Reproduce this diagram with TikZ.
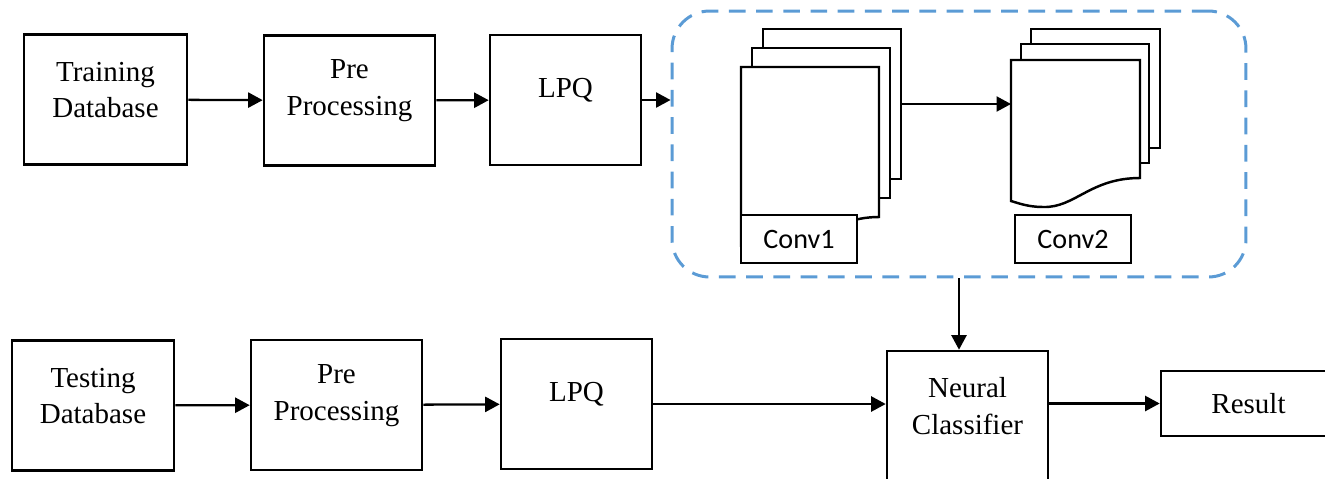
\documentclass[tikz,border=0pt]{standalone}
\usepackage{fontspec}
\setmainfont{Liberation Serif}
\newfontfamily\convfont{Carlito}
\usepackage{xcolor}
\usetikzlibrary{arrows.meta,positioning,calc}
\definecolor{cnnblue}{RGB}{91,155,213}

\begin{document}
\begin{tikzpicture}[x=0.02cm,y=-0.02cm,>={Triangle[length=2.9mm,width=3mm]},
  font=\fontsize{16.5}{21}\selectfont,
  blk/.style={draw,line width=1.5pt,minimum height=2.6cm},
  txt/.style={align=center,inner sep=0pt},
  page/.style={draw,line width=1.4pt,fill=white},
  tag/.style={draw,line width=0.6pt,fill=white,font=\convfont\fontsize{16}{19}\selectfont,minimum width=2.32cm,minimum height=0.96cm},
  arr/.style={->,line width=1.3pt}]
\useasboundingbox (0,0) rectangle (1325,478);
% processing blocks, text sits a bit above the middle
\foreach \n/\x/\y/\w/\t in {trn/105.5/99.5/3.26/{Training\\Database},
    pre1/349.5/100.5/3.42/{Pre\\Processing}, lpq1/565.5/100/3.02/{LPQ},
    tst/93/405.5/3.24/{Testing\\Database}, pre2/336.5/405/3.42/{Pre\\Processing},
    lpq2/576.5/404/3.02/{LPQ}, ncl/967.5/416/3.22/{Neural\\Classifier}}{
  \node[blk,minimum width=\w cm] (\n) at (\x,\y) {};
  \node[txt] (\n-txt) at ([yshift=0.19cm]\n.center) {\t};
}
\node[blk,minimum width=3.5cm,minimum height=1.3cm] (res) at (1248.5,403.5) {Result};
% CNN part
\node[draw=cnnblue,line width=1.7pt,dash pattern=on 9.5pt off 6pt,rounded corners=0.75cm,
  minimum width=11.48cm,minimum height=5.32cm] (cnn) at (959,144) {};
\node[page,minimum width=2.76cm,minimum height=3cm] (c1p3) at (832,104) {};
\node[page,minimum width=2.76cm,minimum height=3cm] (c1p2) at (821,123) {};
\draw[page] (741,67) -- (879,67) -- (879,217)
  .. controls (826,217) and (809,255) .. (775,254)
  .. controls (759,254) and (748,249) .. (741,246) -- cycle;
\node[page,minimum width=2.58cm,minimum height=2.38cm] (c2p3) at (1095.5,88.5) {};
\node[page,minimum width=2.56cm,minimum height=2.38cm] (c2p2) at (1085,103.5) {};
\draw[page] (1011,60) -- (1140,60) -- (1140,178)
  .. controls (1090,178) and (1075,208) .. (1043,207)
  .. controls (1028,207) and (1018,203) .. (1011,201) -- cycle;
\coordinate (c2in) at (1011,104);
\node[tag] (conv1) at (799,239) {Conv1};
\node[tag] (conv2) at (1073,239) {Conv2};
% arrows
\draw[arr] (trn) -- (pre1);
\draw[arr] (pre1) -- (lpq1);
\draw[arr] (lpq1.east) -- (lpq1.east -| cnn.west);
\draw[arr] (c1p3.east) -- (c2in);
\draw[arr] (cnn.south) -- (cnn.south |- ncl.north);
\draw[arr] (tst) -- (pre2);
\draw[arr] (pre2) -- (lpq2);
\draw[arr] (lpq2.east) -- (lpq2.east -| ncl.west);
\draw[arr] (ncl.east |- res.west) -- (res.west);
\end{tikzpicture}
\end{document}
